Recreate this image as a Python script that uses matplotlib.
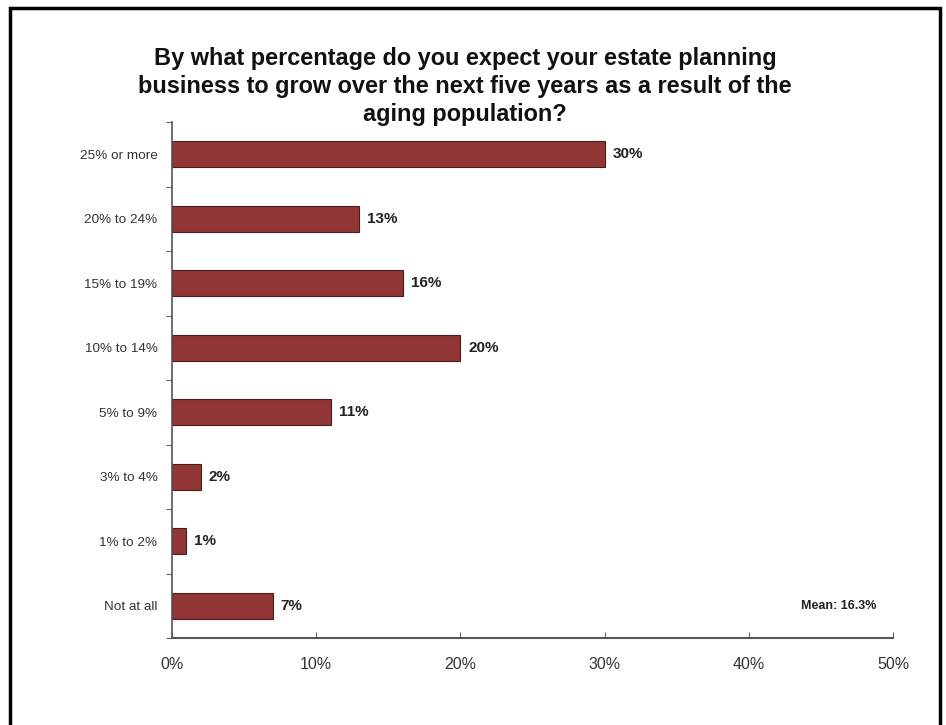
import matplotlib
matplotlib.use("Agg")
import matplotlib.pyplot as plt
from matplotlib.patches import Rectangle

categories = ["25% or more", "20% to 24%", "15% to 19%", "10% to 14%",
              "5% to 9%", "3% to 4%", "1% to 2%", "Not at all"]
values = [30, 13, 16, 20, 11, 2, 1, 7]
xticks = [0, 10, 20, 30, 40, 50]
xtick_labels = ["0%", "10%", "20%", "30%", "40%", "50%"]
title = ("By what percentage do you expect your estate planning\n"
         "business to grow over the next five years as a result of the\n"
         "aging population?")
mean_text = "Mean: 16.3%"

plt.rcParams['font.family'] = ['Liberation Sans', 'DejaVu Sans']

fig = plt.figure(figsize=(9.46, 7.25), dpi=100)
fig.patch.set_facecolor('white')

# outer frame
fig.patches.append(Rectangle((10/946, -0.05), (940-10)/946, 1.05 - 8/725,
                             transform=fig.transFigure, fill=False,
                             edgecolor='black', linewidth=2.5))

ax = fig.add_axes([172/946, 1 - 638/725, (893-172)/946, (638-122)/725])

ypos = list(range(len(categories)))
ax.barh(ypos, values, height=0.4, color='#913634', edgecolor='#4a1c1c', linewidth=0.8)
ax.set_ylim(len(categories) - 0.5, -0.5)
ax.set_xlim(0, 50)

for y, v in zip(ypos, values):
    ax.text(v + 0.55, y, f"{v}%", va='center', ha='left', fontsize=11,
            fontweight='bold', color='#222222')

ax.set_xticks(xticks)
ax.set_xticklabels(xtick_labels, fontsize=11.5, color='#333333')
ax.tick_params(axis='x', direction='in', length=4, color='#666666', pad=14)

ax.set_yticks([i - 0.5 for i in range(len(categories) + 1)])
ax.set_yticklabels([])
ax.set_yticks(ypos, minor=True)
ax.set_yticklabels(categories, minor=True, fontsize=9.7, color='#333333')
ax.tick_params(axis='y', which='major', direction='out', length=4, color='#666666')
ax.tick_params(axis='y', which='minor', length=0, pad=10.5)

for s in ['top', 'right']:
    ax.spines[s].set_visible(False)
ax.spines['left'].set_color('#555555')
ax.spines['bottom'].set_color('#555555')
ax.spines['left'].set_linewidth(1.2)
ax.spines['bottom'].set_linewidth(1.5)

ax.text((876-172)/721, 7, mean_text, transform=ax.get_yaxis_transform(), ha='right', va='center',
        fontsize=9, fontweight='bold', color='#222222')

fig.text(465/946, 1 - 47/725, title, ha='center', va='top', fontsize=16.9,
         fontweight='bold', linespacing=1.27, color='#111111')

fig.savefig("out.png", dpi=100, facecolor='white')
